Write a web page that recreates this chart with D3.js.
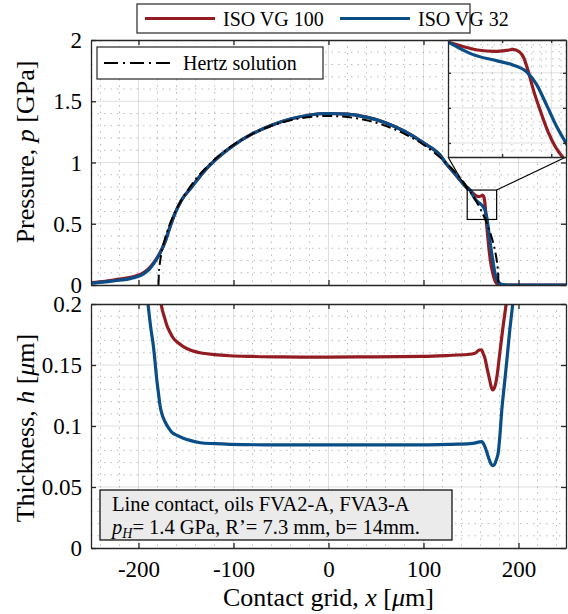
<!DOCTYPE html>
<html><head><meta charset="utf-8">
<script src="https://cdn.jsdelivr.net/npm/d3@7"></script>
<style>
body{margin:0;background:#fff}
svg{display:block}
text{font-family:"Liberation Serif","Times New Roman",serif;fill:#000}
</style>
</head><body>
<svg id="c" width="568" height="614"></svg>
<script>
// ---------------- data ----------------
const xTicks = [-200, -100, 0, 100, 200];
const xTickLabels = ["-200", "-100", "0", "100", "200"];
const pTicks = [0, 0.5, 1, 1.5, 2];
const pTickLabels = ["0", "0.5", "1", "1.5", "2"];
const hTicks = [0, 0.05, 0.1, 0.15, 0.2];
const hTickLabels = ["0", "0.05", "0.1", "0.15", "0.2"];
const seriesNames = ["ISO VG 100", "ISO VG 32"];
const hertzName = "Hertz solution";

const hertzX = [-179, -178.5, -178, -177, -176, -174, -172, -168, -165, -160, -155, -150, -140, -130, -120, -100, -80, -60, -40, -20, 0,
  20, 40, 60, 80, 100, 120, 130, 140, 150, 155, 160, 165, 168, 172, 174, 176, 177, 178, 178.5, 179];
const hertzP = [0, 0.103, 0.146, 0.206, 0.252, 0.324, 0.382, 0.476, 0.535, 0.619, 0.690, 0.753, 0.860, 0.949, 1.024, 1.145, 1.234, 1.300, 1.345, 1.371, 1.380,
  1.371, 1.345, 1.300, 1.234, 1.145, 1.024, 0.949, 0.860, 0.753, 0.690, 0.619, 0.535, 0.476, 0.382, 0.324, 0.252, 0.206, 0.146, 0.103, 0];

const redPX = [-250, -235, -225, -210, -204, -197, -193, -188.5, -184.4, -181, -177.4, -172, -166.8, -161.6, -154.6, -144, -133.5, -120, -100, -80, -60, -40, -20, 0,
  20, 40, 60, 80, 100, 117.4, 124.4, 130, 138.4, 145, 149, 152, 155, 158.6, 161, 162.2, 163.5, 164.5, 165.3, 166.5, 167.7, 169.4, 170.8, 172.3, 174, 175.5, 177, 179, 182, 250];
const redP = [0.02, 0.03, 0.042, 0.06, 0.072, 0.09, 0.11, 0.14, 0.178, 0.215, 0.262, 0.354, 0.476, 0.585, 0.694, 0.80, 0.905, 1.015, 1.14, 1.235, 1.305, 1.355, 1.388, 1.40,
  1.395, 1.37, 1.325, 1.255, 1.16, 1.06, 0.985, 0.935, 0.857, 0.80, 0.775, 0.75, 0.73, 0.722, 0.728, 0.733, 0.72, 0.68, 0.61, 0.49, 0.39, 0.26, 0.18, 0.12, 0.065, 0.03, 0.012, 0.003, 0, 0];

const bluePX = [-250, -235, -225, -210, -204, -197, -193, -188.5, -184.4, -181, -177.4, -172, -166.8, -161.6, -154.6, -144, -133.5, -120, -100, -80, -60, -40, -20, 0,
  20, 40, 60, 80, 100, 117.4, 124.4, 130, 138.4, 145, 149, 151, 154, 159, 162.2, 165, 167, 169.2, 171.1, 173, 175.3, 177, 179, 182, 186, 190, 250];
const blueP = [0.015, 0.025, 0.035, 0.05, 0.062, 0.08, 0.1, 0.13, 0.17, 0.21, 0.26, 0.354, 0.476, 0.585, 0.694, 0.80, 0.905, 1.015, 1.14, 1.235, 1.305, 1.355, 1.388, 1.40,
  1.395, 1.37, 1.325, 1.255, 1.16, 1.06, 0.985, 0.935, 0.857, 0.80, 0.775, 0.745, 0.705, 0.668, 0.645, 0.605, 0.534, 0.407, 0.294, 0.2, 0.095, 0.05, 0.022, 0.006, 0.001, 0, 0];

const redHX = [-182, -179, -177, -175.7, -173, -170.4, -167, -163.4, -158, -152.8, -145, -135, -120, -104, -80, -50, 0, 50, 100, 130, 149, 155, 158.8, 161, 163, 164.7, 167, 169.3, 171, 172.8, 174.5, 177, 180.5, 184, 186.8, 189, 192];
const redH = [0.25, 0.22, 0.205, 0.198, 0.19, 0.183, 0.177, 0.172, 0.168, 0.165, 0.162, 0.160, 0.1585, 0.1576, 0.157, 0.1566, 0.1565, 0.1567, 0.157, 0.158, 0.1588, 0.160, 0.1623, 0.1625, 0.159, 0.1555, 0.147, 0.139, 0.133, 0.1295, 0.131, 0.139, 0.161, 0.183, 0.199, 0.215, 0.24];

const blueHX = [-196, -193, -189.7, -187, -184.4, -182.5, -180.9, -179, -177.4, -175, -172.1, -168, -165.1, -160, -152.8, -145, -135, -120, -104, -50, 0, 50, 100, 130, 149, 155, 159, 161.2, 163, 166.5, 168.5, 170.7, 172.5, 174.2, 176.5, 178.8, 180.5, 182.3, 185, 187.6, 191, 193.8, 196, 199];
const blueH = [0.25, 0.225, 0.198, 0.18, 0.166, 0.152, 0.139, 0.127, 0.117, 0.109, 0.1035, 0.098, 0.095, 0.0925, 0.090, 0.088, 0.0863, 0.0855, 0.085, 0.0845, 0.0845, 0.0845, 0.0845, 0.085, 0.0855, 0.0862, 0.087, 0.0872, 0.0858, 0.079, 0.074, 0.0694, 0.0675, 0.068, 0.072, 0.079, 0.093, 0.112, 0.133, 0.1527, 0.18, 0.199, 0.215, 0.24];

const zoomBoxX = [146, 177];
const zoomBoxP = [0.535, 0.775];
const insetXDomain = [149, 173];
const insetPDomain = [0.12, 0.787];
const insetXTicks = [160, 170];
const insetPTicks = [0.2, 0.4, 0.6];

const colors = ["#921c22", "#0b4d86"];
const axisColor = "#262626";

// ---------------- layout ----------------
const svg = d3.select("#c");
const L = 91, R = 566;
const topBox = {t: 40, b: 285};
const botBox = {t: 304, b: 548};
const insetBox = {l: 448, r: 566, t: 40, b: 157};

const x = d3.scaleLinear().domain([-250, 250]).range([L, R]);
const yP = d3.scaleLinear().domain([0, 2]).range([topBox.b, topBox.t]);
const yH = d3.scaleLinear().domain([0, 0.2]).range([botBox.b, botBox.t]);
const xi = d3.scaleLinear().domain(insetXDomain).range([insetBox.l, insetBox.r]);
const yi = d3.scaleLinear().domain(insetPDomain).range([insetBox.b, insetBox.t]);

function zip(a, b) { return a.map((v, i) => [v, b[i]]); }

const defs = svg.append("defs");
function clip(id, x0, y0, x1, y1) {
  defs.append("clipPath").attr("id", id).append("rect")
    .attr("x", x0).attr("y", y0).attr("width", x1 - x0).attr("height", y1 - y0);
}
clip("clipTop", L, topBox.t, R, topBox.b);
clip("clipBot", L, botBox.t, R, botBox.b);
clip("clipIn", insetBox.l, insetBox.t, insetBox.r, insetBox.b);

function grid(g, xs, ys, x0, x1, y0, y1, xMajor, yMajor, xMinor, yMinor) {
  xMinor.forEach(v => g.append("line").attr("x1", xs(v)).attr("x2", xs(v)).attr("y1", y0).attr("y2", y1)
    .attr("stroke", axisColor).attr("stroke-opacity", 0.3).attr("stroke-dasharray", "1.5,5").attr("stroke-width", 1));
  yMinor.forEach(v => g.append("line").attr("y1", ys(v)).attr("y2", ys(v)).attr("x1", x0).attr("x2", x1)
    .attr("stroke", axisColor).attr("stroke-opacity", 0.3).attr("stroke-dasharray", "1.5,5").attr("stroke-width", 1));
  xMajor.forEach(v => g.append("line").attr("x1", xs(v)).attr("x2", xs(v)).attr("y1", y0).attr("y2", y1)
    .attr("stroke", axisColor).attr("stroke-opacity", 0.15).attr("stroke-width", 1));
  yMajor.forEach(v => g.append("line").attr("y1", ys(v)).attr("y2", ys(v)).attr("x1", x0).attr("x2", x1)
    .attr("stroke", axisColor).attr("stroke-opacity", 0.15).attr("stroke-width", 1));
}

function range(a, b, s) { const o = []; for (let v = a; v <= b + 1e-9; v += s) o.push(+v.toFixed(6)); return o; }
const xMinor = range(-240, 240, 20).filter(v => v % 100 !== 0);

// grids
grid(svg.append("g"), x, yP, L, R, topBox.t, topBox.b, xTicks, pTicks.slice(1, -1), xMinor, range(0.1, 1.9, 0.1).filter(v => Math.abs(v * 2 - Math.round(v * 2)) > 1e-6));
grid(svg.append("g"), x, yH, L, R, botBox.t, botBox.b, xTicks, hTicks.slice(1, -1), xMinor, range(0.01, 0.19, 0.01).filter(v => Math.abs(v * 20 - Math.round(v * 20)) > 1e-6));

function drawAxes(ys, box, yt, ytl, showX) {
  const g = svg.append("g");
  const bottom = d3.axisBottom(x).tickValues(xTicks).tickSizeInner(-5).tickSizeOuter(0).tickFormat((d, i) => showX ? xTickLabels[i] : "");
  const top = d3.axisTop(x).tickValues(xTicks).tickSizeInner(-5).tickSizeOuter(0).tickFormat("");
  const left = d3.axisLeft(ys).tickValues(yt).tickSizeInner(-5).tickSizeOuter(0).tickFormat((d, i) => ytl[i]);
  const right = d3.axisRight(ys).tickValues(yt).tickSizeInner(-5).tickSizeOuter(0).tickFormat("");
  const gb = g.append("g").attr("transform", `translate(0,${box.b})`).call(bottom);
  const gt = g.append("g").attr("transform", `translate(0,${box.t})`).call(top);
  const gl = g.append("g").attr("transform", `translate(${L},0)`).call(left);
  const gr = g.append("g").attr("transform", `translate(${R},0)`).call(right);
  [gb, gt, gl, gr].forEach(a => {
    a.selectAll("path.domain").attr("stroke", axisColor).attr("stroke-width", 1.3);
    a.selectAll(".tick line").attr("stroke", axisColor).attr("stroke-width", 1.3);
    a.selectAll("text").attr("font-family", "Liberation Serif").attr("font-size", 23).attr("fill", "#000");
  });
  gl.selectAll("text").attr("x", -9).attr("dy", "0.33em");
  gb.selectAll("text").attr("y", 13).attr("dy", "0.71em");
}

// ---- top: pressure ----
const lineP = d3.line().x(d => x(d[0])).y(d => yP(d[1])).curve(d3.curveMonotoneX);
const gTop = svg.append("g").attr("clip-path", "url(#clipTop)");
gTop.append("path").attr("d", lineP(zip(redPX, redP))).attr("fill", "none").attr("stroke", colors[0]).attr("stroke-width", 3.2).attr("stroke-linejoin", "round");
gTop.append("path").attr("d", lineP(zip(bluePX, blueP))).attr("fill", "none").attr("stroke", colors[1]).attr("stroke-width", 3.2).attr("stroke-linejoin", "round");
gTop.append("path").attr("d", lineP(zip(hertzX, hertzP))).attr("fill", "none").attr("stroke", "#000").attr("stroke-width", 2).attr("stroke-dasharray", "10,4,2,4");

// ---- bottom: thickness ----
const lineH = d3.line().x(d => x(d[0])).y(d => yH(d[1])).curve(d3.curveMonotoneX);
const gBot = svg.append("g").attr("clip-path", "url(#clipBot)");
gBot.append("path").attr("d", lineH(zip(redHX, redH))).attr("fill", "none").attr("stroke", colors[0]).attr("stroke-width", 3.2).attr("stroke-linejoin", "round");
gBot.append("path").attr("d", lineH(zip(blueHX, blueH))).attr("fill", "none").attr("stroke", colors[1]).attr("stroke-width", 3.2).attr("stroke-linejoin", "round");

drawAxes(yP, topBox, pTicks, pTickLabels, false);
drawAxes(yH, botBox, hTicks, hTickLabels, true);

// ---- zoom box & connectors ----
const zb = {x0: x(zoomBoxX[0]), x1: x(zoomBoxX[1]), y0: yP(zoomBoxP[1]), y1: yP(zoomBoxP[0])};
svg.append("rect").attr("x", zb.x0).attr("y", zb.y0).attr("width", zb.x1 - zb.x0).attr("height", zb.y1 - zb.y0)
  .attr("fill", "none").attr("stroke", "#000").attr("stroke-width", 1.2);
svg.append("line").attr("x1", zb.x0).attr("y1", zb.y0).attr("x2", insetBox.l).attr("y2", insetBox.b).attr("stroke", "#000").attr("stroke-width", 1.2);
svg.append("line").attr("x1", zb.x1).attr("y1", zb.y0).attr("x2", insetBox.r).attr("y2", insetBox.b).attr("stroke", "#000").attr("stroke-width", 1.2);

// ---- inset ----
const gi = svg.append("g");
gi.append("rect").attr("x", insetBox.l).attr("y", insetBox.t).attr("width", insetBox.r - insetBox.l).attr("height", insetBox.b - insetBox.t).attr("fill", "#fff");
grid(gi, xi, yi, insetBox.l, insetBox.r, insetBox.t, insetBox.b, insetXTicks, insetPTicks,
  range(150, 172, 2).filter(v => v % 10 !== 0), range(0.16, 0.76, 0.04).filter(v => Math.abs(v * 5 - Math.round(v * 5)) > 1e-6));
const lineI = d3.line().x(d => xi(d[0])).y(d => yi(d[1])).curve(d3.curveMonotoneX);
const gic = gi.append("g").attr("clip-path", "url(#clipIn)");
gic.append("path").attr("d", lineI(zip(redPX, redP))).attr("fill", "none").attr("stroke", colors[0]).attr("stroke-width", 3.2);
gic.append("path").attr("d", lineI(zip(bluePX, blueP))).attr("fill", "none").attr("stroke", colors[1]).attr("stroke-width", 3.2);
[
  [d3.axisBottom(xi).tickValues(insetXTicks), insetBox.b, true],
  [d3.axisTop(xi).tickValues(insetXTicks), insetBox.t, true],
  [d3.axisLeft(yi).tickValues(insetPTicks), insetBox.l, false],
  [d3.axisRight(yi).tickValues(insetPTicks), insetBox.r, false]
].forEach(([ax, pos, horiz]) => {
  const a = gi.append("g").attr("transform", horiz ? `translate(0,${pos})` : `translate(${pos},0)`)
    .call(ax.tickSizeInner(-3).tickSizeOuter(0).tickFormat(""));
  a.selectAll("path.domain").attr("stroke", axisColor).attr("stroke-width", 1.3);
  a.selectAll(".tick line").attr("stroke", axisColor).attr("stroke-width", 1.3);
});

// ---- legends ----
const lg = svg.append("g");
lg.append("rect").attr("x", 137).attr("y", 4).attr("width", 333).attr("height", 29).attr("fill", "#fff").attr("stroke", axisColor).attr("stroke-width", 1.2);
lg.append("line").attr("x1", 145).attr("x2", 215).attr("y1", 18.5).attr("y2", 18.5).attr("stroke", colors[0]).attr("stroke-width", 3.2);
lg.append("text").attr("x", 223).attr("y", 26).attr("font-size", 20).text(seriesNames[0]);
lg.append("line").attr("x1", 340).attr("x2", 410).attr("y1", 18.5).attr("y2", 18.5).attr("stroke", colors[1]).attr("stroke-width", 3.2);
lg.append("text").attr("x", 418).attr("y", 26).attr("font-size", 20).text(seriesNames[1]);

const hl = svg.append("g");
hl.append("rect").attr("x", 97).attr("y", 47).attr("width", 226).attr("height", 32).attr("fill", "#fff").attr("stroke", axisColor).attr("stroke-width", 1.2);
hl.append("line").attr("x1", 104).attr("x2", 172).attr("y1", 63).attr("y2", 63).attr("stroke", "#000").attr("stroke-width", 2).attr("stroke-dasharray", "14,5,2,5");
hl.append("text").attr("x", 183).attr("y", 70).attr("font-size", 20).text(hertzName);

// ---- annotation ----
const an = svg.append("g");
an.append("rect").attr("x", 100).attr("y", 490).attr("width", 352).attr("height", 50).attr("fill", "#ebebeb").attr("stroke", "#000").attr("stroke-width", 1.2);
an.append("text").attr("x", 112).attr("y", 511).attr("font-size", 20.5).text("Line contact, oils FVA2-A, FVA3-A");
const t2 = an.append("text").attr("x", 112).attr("y", 534).attr("font-size", 20.5);
t2.append("tspan").attr("font-style", "italic").text("p");
t2.append("tspan").attr("font-style", "italic").attr("font-size", 14).attr("dy", 4).text("H");
t2.append("tspan").attr("dy", -4).text("= 1.4 GPa, R’= 7.3 mm, b= 14mm.");

// ---- axis labels ----
const yl1 = svg.append("text").attr("transform", `translate(34,152) rotate(-90)`).attr("text-anchor", "middle").attr("font-size", 26);
yl1.append("tspan").text("Pressure, ");
yl1.append("tspan").attr("font-style", "italic").text("p");
yl1.append("tspan").text(" [GPa]");
const yl2 = svg.append("text").attr("transform", `translate(34,${(botBox.t + botBox.b) / 2 + 2}) rotate(-90)`).attr("text-anchor", "middle").attr("font-size", 26);
yl2.append("tspan").text("Thickness, ");
yl2.append("tspan").attr("font-style", "italic").text("h");
yl2.append("tspan").text(" [");
yl2.append("tspan").attr("font-style", "italic").text("μ");
yl2.append("tspan").text("m]");
const xl = svg.append("text").attr("x", (L + R) / 2).attr("y", 606).attr("text-anchor", "middle").attr("font-size", 26);
xl.append("tspan").text("Contact grid, ");
xl.append("tspan").attr("font-style", "italic").text("x");
xl.append("tspan").text(" [");
xl.append("tspan").attr("font-style", "italic").text("μ");
xl.append("tspan").text("m]");
</script>
</body></html>
